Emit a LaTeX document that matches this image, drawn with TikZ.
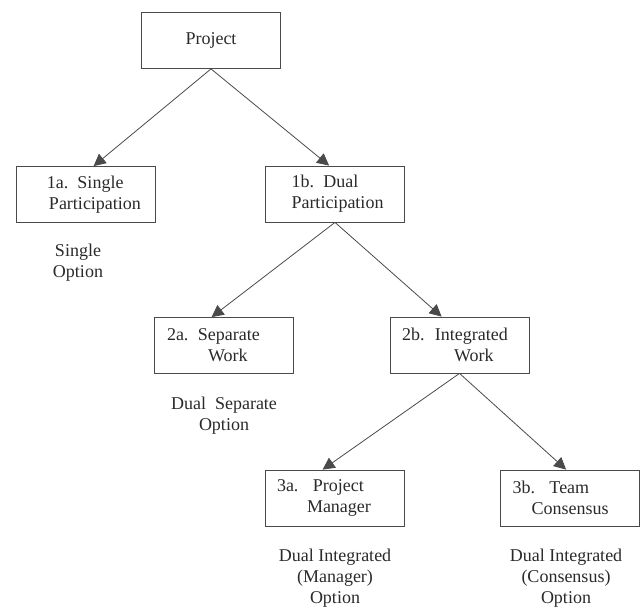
\documentclass[tikz,border=0pt]{standalone}
\usepackage{fontspec}
\setmainfont{Liberation Serif}
\newfontfamily\timesfont{Liberation Serif}
\usetikzlibrary{arrows.meta}
\definecolor{linegray}{HTML}{4A4A4A}
\definecolor{textgray}{HTML}{2A2A2A}
\begin{document}
\begin{tikzpicture}[x=1pt,y=-1pt,
  box/.style={draw=linegray,line width=0.8pt,minimum width=139pt,minimum height=56pt,
    inner xsep=0pt,inner ysep=0pt,text width=139pt,align=left,text=textgray,
    font=\timesfont\fontsize{18}{21}\selectfont},
  lbl/.style={align=center,text=textgray,inner sep=0pt,font=\timesfont\fontsize{18}{21}\selectfont},
  conn/.style={draw=linegray,line width=0.8pt,-{Triangle[length=12pt,width=12pt]}}]
\useasboundingbox (0,0) rectangle (643,607);
\node[box,align=center] (p) at (211,40.5) {Project};
\node[box] (a1) at (85.5,194.5) {\hspace*{31pt}1a. Single\\\hspace*{33pt}Participation};
\node[box] (b1) at (335,194) {\hspace*{26pt}1b.\hspace{9.5pt}Dual\\\hspace*{26pt}Participation};
\node[box] (a2) at (223.5,345.5) {\hspace*{13pt}2a.\hspace{9.5pt}Separate\\\hspace*{54pt}Work};
\node[box] (b2) at (459.5,345) {\hspace*{12pt}2b.\hspace{10.5pt}Integrated\\\hspace*{64pt}Work};
\node[box] (a3) at (334.5,498) {\hspace*{12pt}3a.\hspace{14.5pt}Project\\\hspace*{42pt}Manager};
\node[box] (b3) at (570,498) {\hspace*{12pt}3b.\hspace{14.5pt}Team\\\hspace*{31pt}Consensus};
\node[lbl] (la1) at (78,263) {Single\\Option};
\node[lbl] (la2) at (224,416) {Dual\hspace{9pt}Separate\\Option};
\node[lbl] (la3) at (335,578) {Dual Integrated\\(Manager)\\Option};
\node[lbl] (lb3) at (566,578) {Dual Integrated\\(Consensus)\\Option};
\draw[conn] (p.south) -- ([xshift=78pt]a1.north west);
\draw[conn] (p.south) -- ([xshift=64pt]b1.north west);
\draw[conn] (b1.south) -- ([xshift=58pt]a2.north west);
\draw[conn] (b1.south) -- ([xshift=52pt]b2.north west);
\draw[conn] (b2.south) -- ([xshift=58pt]a3.north west);
\draw[conn] (b2.south) -- ([xshift=66pt]b3.north west);
\end{tikzpicture}
\end{document}
